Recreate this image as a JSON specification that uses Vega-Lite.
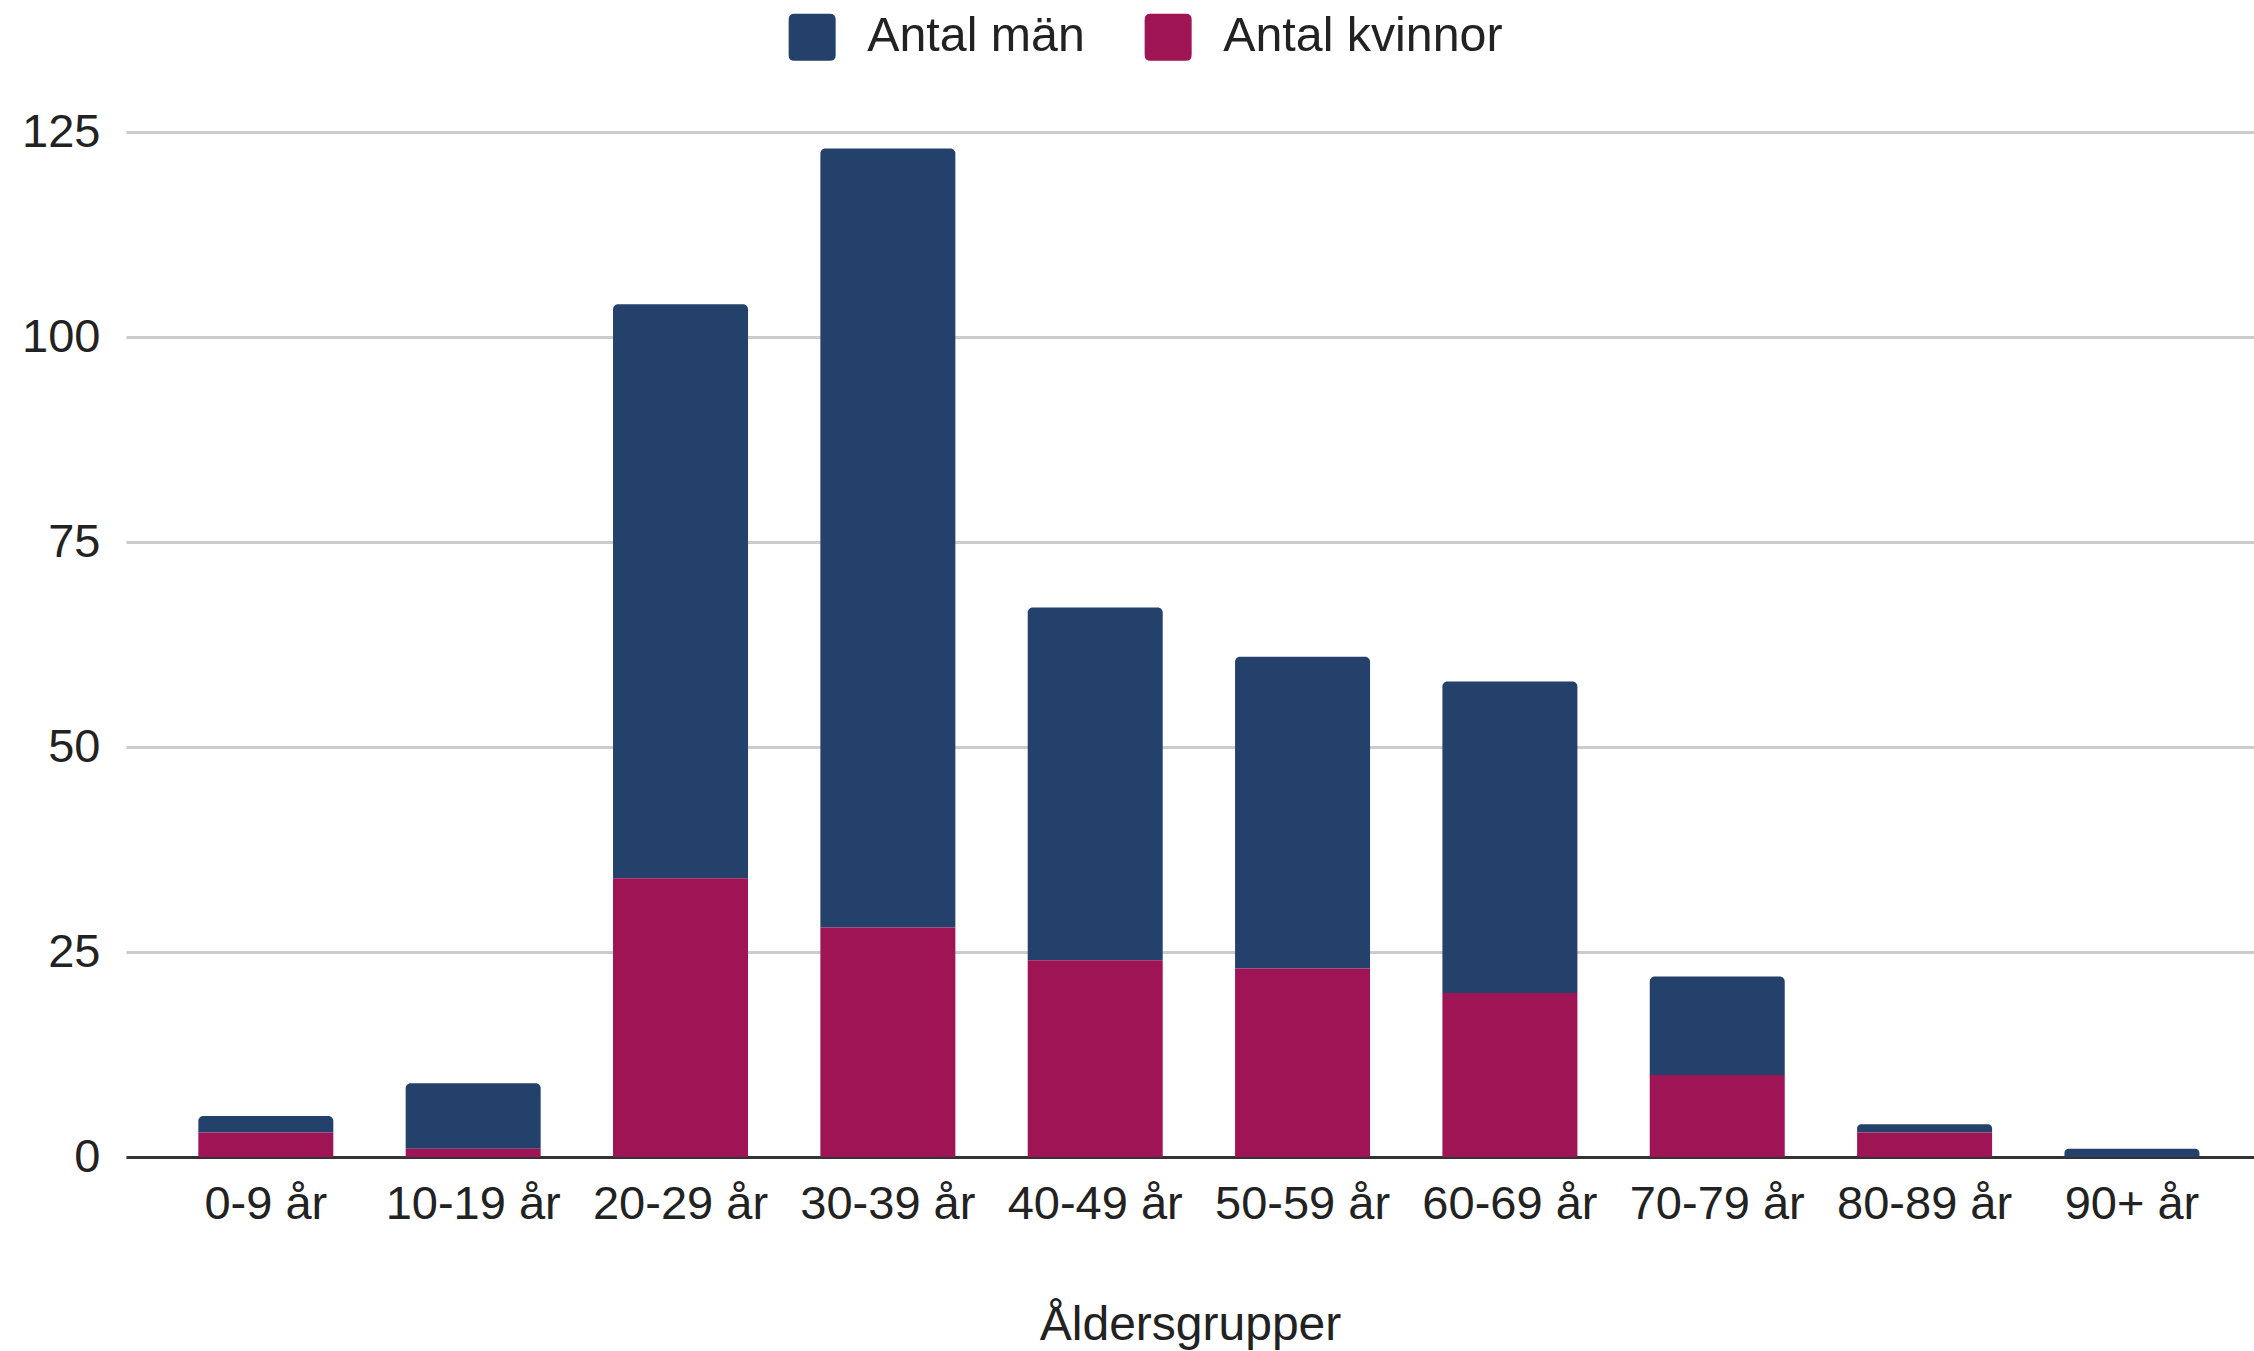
{
  "$schema": "https://vega.github.io/schema/vega-lite/v6.json",
  "width": 2128,
  "height": 1025,
  "autosize": {"type": "none"},
  "padding": {"left": 126, "top": 132, "right": 0, "bottom": 194},
  "background": "#ffffff",
  "config": {
    "font": "Liberation Sans",
    "view": {"stroke": null},
    "axis": {"labelFont": "Liberation Sans", "titleFont": "Liberation Sans", "labelColor": "#222222", "titleColor": "#222222"},
    "legend": {"labelFont": "Liberation Sans", "labelColor": "#222222"}
  },
  "data": {
    "values": [
      {"grupp": "0-9 år", "kön": "Antal kvinnor", "antal": 3},
      {"grupp": "0-9 år", "kön": "Antal män", "antal": 2},
      {"grupp": "10-19 år", "kön": "Antal kvinnor", "antal": 1},
      {"grupp": "10-19 år", "kön": "Antal män", "antal": 8},
      {"grupp": "20-29 år", "kön": "Antal kvinnor", "antal": 34},
      {"grupp": "20-29 år", "kön": "Antal män", "antal": 70},
      {"grupp": "30-39 år", "kön": "Antal kvinnor", "antal": 28},
      {"grupp": "30-39 år", "kön": "Antal män", "antal": 95},
      {"grupp": "40-49 år", "kön": "Antal kvinnor", "antal": 24},
      {"grupp": "40-49 år", "kön": "Antal män", "antal": 43},
      {"grupp": "50-59 år", "kön": "Antal kvinnor", "antal": 23},
      {"grupp": "50-59 år", "kön": "Antal män", "antal": 38},
      {"grupp": "60-69 år", "kön": "Antal kvinnor", "antal": 20},
      {"grupp": "60-69 år", "kön": "Antal män", "antal": 38},
      {"grupp": "70-79 år", "kön": "Antal kvinnor", "antal": 10},
      {"grupp": "70-79 år", "kön": "Antal män", "antal": 12},
      {"grupp": "80-89 år", "kön": "Antal kvinnor", "antal": 3},
      {"grupp": "80-89 år", "kön": "Antal män", "antal": 1},
      {"grupp": "90+ år", "kön": "Antal kvinnor", "antal": 0},
      {"grupp": "90+ år", "kön": "Antal män", "antal": 1}
    ]
  },
  "transform": [
    {"stack": "antal", "groupby": ["grupp"], "sort": [{"field": "kön", "order": "ascending"}], "as": ["y0", "y1"]}
  ],
  "encoding": {
    "x": {
      "field": "grupp",
      "type": "nominal",
      "sort": null,
      "scale": {"paddingInner": 0.349, "paddingOuter": 0.306, "align": 0.57},
      "axis": {
        "title": "Åldersgrupper",
        "titleFontSize": 48,
        "titleFontWeight": "normal",
        "titlePadding": 74,
        "labelFontSize": 47,
        "labelAngle": 0,
        "labelPadding": 24,
        "ticks": false,
        "tickSize": 0,
        "domainColor": "#333333",
        "domainWidth": 3,
        "grid": false
      }
    },
    "y": {
      "field": "y1",
      "type": "quantitative",
      "scale": {"domain": [0, 125], "nice": false},
      "axis": {
        "title": null,
        "values": [0, 25, 50, 75, 100, 125],
        "labelFontSize": 47,
        "labelPadding": 26,
        "ticks": false,
        "tickSize": 0,
        "domain": false,
        "gridColor": "#cccccc",
        "gridWidth": 3
      }
    },
    "y2": {"field": "y0"},
    "color": {
      "field": "kön",
      "type": "nominal",
      "scale": {"domain": ["Antal män", "Antal kvinnor"], "range": ["#24416B", "#9E1454"]},
      "legend": {
        "title": null,
        "orient": "none",
        "direction": "horizontal",
        "legendX": 662,
        "legendY": -119,
        "padding": 0,
        "labelFontSize": 48.3,
        "labelLimit": 1000,
        "labelOffset": 31,
        "columnPadding": 59,
        "symbolSize": 2209,
        "symbolType": "M -1 -0.75 Q -1 -1 -0.75 -1 L 0.75 -1 Q 1 -1 1 -0.75 L 1 0.75 Q 1 1 0.75 1 L -0.75 1 Q -1 1 -1 0.75 Z",
        "symbolStrokeWidth": 0
      }
    }
  },
  "layer": [
    {
      "transform": [{"filter": "datum['kön'] === 'Antal män'"}],
      "mark": {"type": "bar", "cornerRadiusTopLeft": 5, "cornerRadiusTopRight": 5}
    },
    {
      "transform": [{"filter": "datum['kön'] === 'Antal kvinnor'"}],
      "mark": {"type": "bar"}
    }
  ]
}
